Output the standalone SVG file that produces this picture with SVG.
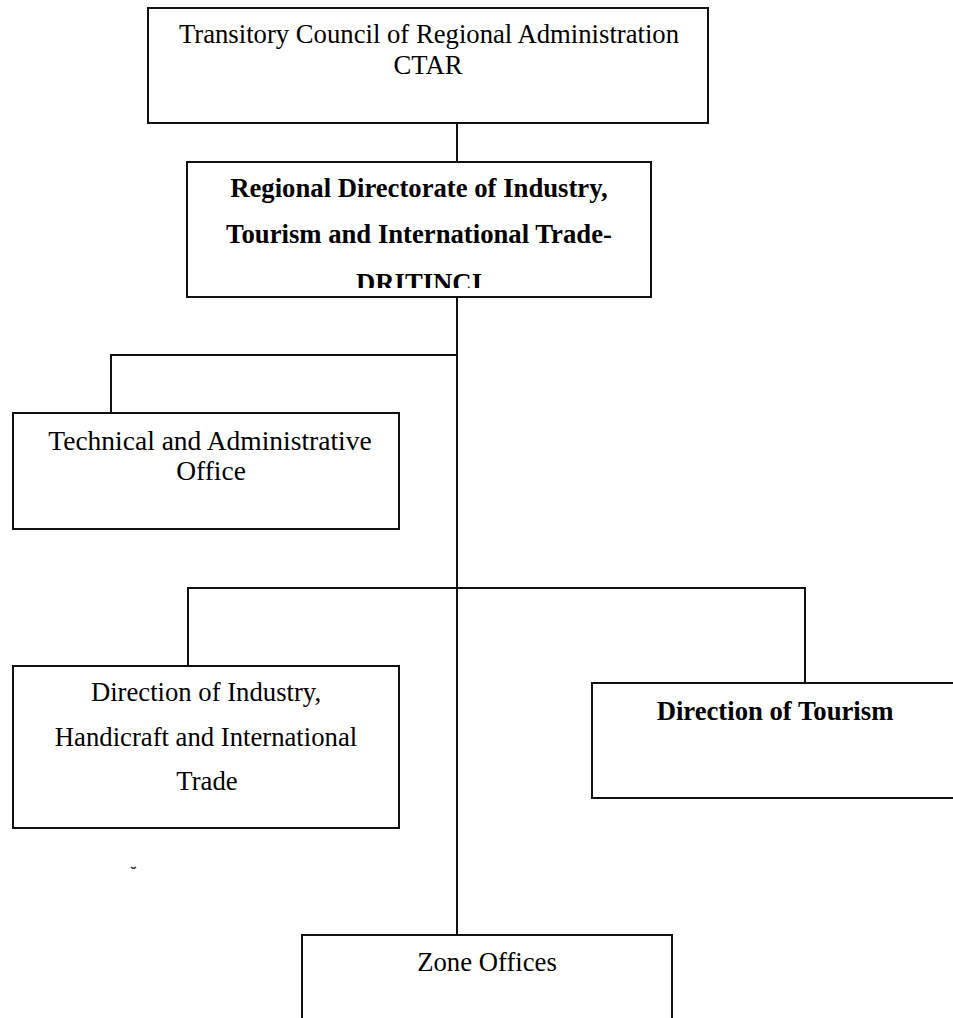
<svg xmlns="http://www.w3.org/2000/svg" width="953" height="1018" viewBox="0 0 953 1018">
  <style>
    .box { fill: #ffffff; stroke: #111111; stroke-width: 2; }
    .conn { fill: none; stroke: #111111; stroke-width: 2; }
    .t { font-family: "Liberation Serif", "Times New Roman", serif; font-size: 26.7px; fill: #000000; text-anchor: middle; }
    .b { font-weight: bold; }
    .lg { font-size: 27.5px; }
  </style>
  <defs>
    <clipPath id="clipRD">
      <rect x="187" y="162" width="464" height="126"/>
    </clipPath>
  </defs>
  <rect x="0" y="0" width="953" height="1018" fill="#ffffff"/>

  <g id="connectors">
    <path class="conn" d="M457,123 V162"/>
    <path class="conn" d="M457,297 V935"/>
    <path class="conn" d="M457,355 H111 V413"/>
    <path class="conn" d="M188,666 V588 H805 V683"/>
  </g>

  <g id="ctar">
    <rect class="box" x="148" y="8" width="560" height="115"/>
    <text class="t" x="429" y="43">Transitory Council of Regional Administration</text>
    <text class="t" x="428" y="74">CTAR</text>
  </g>

  <g id="dritinci">
    <rect class="box" x="187" y="162" width="464" height="135"/>
    <g clip-path="url(#clipRD)">
      <text class="t b" x="419" y="197">Regional Directorate of Industry,</text>
      <text class="t b" x="419" y="243">Tourism and International Trade-</text>
      <text class="t b" x="419" y="292">DRITINCI</text>
    </g>
  </g>

  <g id="technical-office">
    <rect class="box" x="13" y="413" width="386" height="116"/>
    <text class="t lg" x="210" y="450">Technical and Administrative</text>
    <text class="t lg" x="211" y="480">Office</text>
  </g>

  <g id="direction-industry">
    <rect class="box" x="13" y="666" width="386" height="162"/>
    <text class="t" x="206" y="701">Direction of Industry,</text>
    <text class="t" x="206" y="746">Handicraft and International</text>
    <text class="t" x="207" y="790">Trade</text>
  </g>

  <g id="direction-tourism">
    <rect class="box" x="592" y="683" width="370" height="115"/>
    <text class="t b" x="775" y="720">Direction of Tourism</text>
  </g>

  <g id="zone-offices">
    <rect class="box" x="302" y="935" width="370" height="100"/>
    <text class="t" x="487" y="971">Zone Offices</text>
  </g>

  <path d="M131,867 q2.5,2.5 5,0" fill="none" stroke="#333333" stroke-width="1.5"/>
</svg>
